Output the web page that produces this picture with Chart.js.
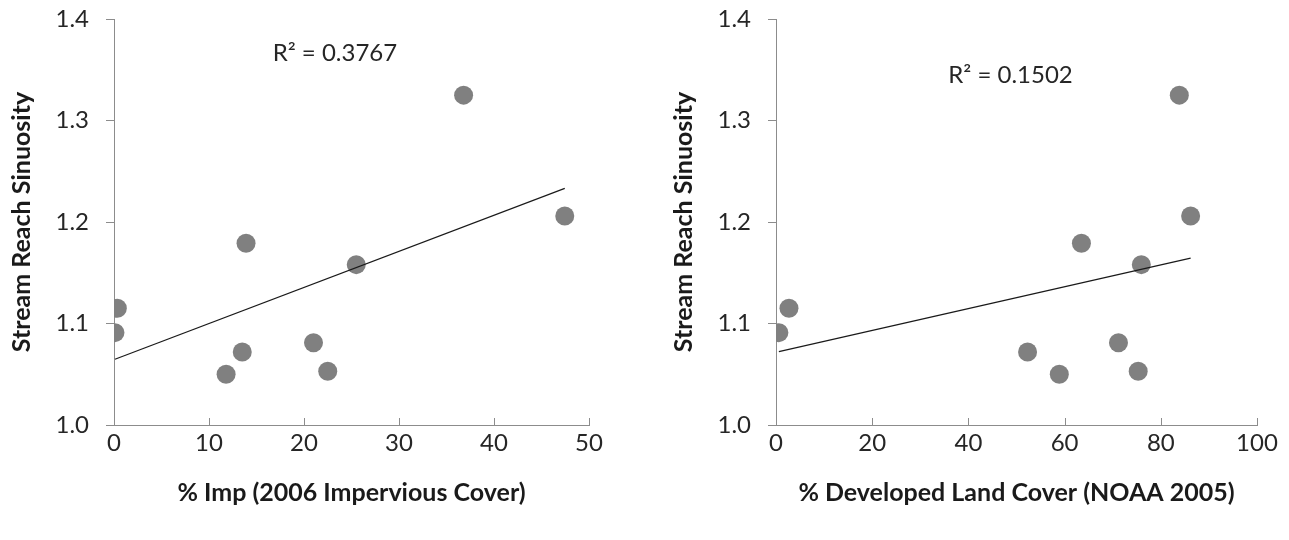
<!DOCTYPE html>
<html>
<head>
<meta charset="utf-8">
<script src="https://cdn.jsdelivr.net/npm/chart.js@4"></script>
<style>
  html, body { margin: 0; padding: 0; background: #fff; }
  #wrap { position: relative; width: 1289px; height: 540px; }
  canvas { position: absolute; top: 0; }
  #c1 { left: 0; }
  #c2 { left: 640px; }
</style>
</head>
<body>
<div id="wrap">
  <canvas id="c1" width="640" height="540"></canvas>
  <canvas id="c2" width="649" height="540"></canvas>
</div>
<script>
// values
var sinuosity = [1.115, 1.091, 1.050, 1.072, 1.179, 1.081, 1.053, 1.158, 1.325, 1.206];
var pctImp    = [0.35, 0.1, 11.8, 13.5, 13.9, 21.0, 22.5, 25.5, 36.8, 47.45];
var pctDev    = [2.7, 0.6, 58.9, 52.3, 63.5, 71.2, 75.3, 75.95, 83.85, 86.2];
var r2Text    = ['R\u00B2 = 0.3767', 'R\u00B2 = 0.1502'];
var xTitles   = ['% Imp (2006 Impervious Cover)', '% Developed Land Cover (NOAA 2005)'];
var yTitle    = 'Stream Reach Sinuosity';
var xMax      = [50, 100];
var xStep     = [10, 20];

var axisColor = '#8c8c8c';
var font = 'Lato';

function pairs(xs, ys) {
  return xs.map(function (x, i) { return {x: x, y: ys[i]}; });
}

// least squares line between min and max x
function trend(xs, ys) {
  var n = xs.length, sx = 0, sy = 0, sxx = 0, sxy = 0;
  for (var i = 0; i < n; i++) {
    sx += xs[i]; sy += ys[i]; sxx += xs[i] * xs[i]; sxy += xs[i] * ys[i];
  }
  var b = (n * sxy - sx * sy) / (n * sxx - sx * sx);
  var a = (sy - b * sx) / n;
  var lo = Math.min.apply(null, xs), hi = Math.max.apply(null, xs);
  return [{x: lo, y: a + b * lo}, {x: hi, y: a + b * hi}];
}

// x ticks point up into the plot
var innerTicks = {
  id: 'innerTicks',
  afterDatasetsDraw: function (chart) {
    var s = chart.scales.x, ctx = chart.ctx, b = chart.chartArea.bottom;
    ctx.save();
    ctx.strokeStyle = axisColor;
    ctx.lineWidth = 1;
    s.ticks.forEach(function (t) {
      var px = Math.round(s.getPixelForValue(t.value)) + 0.5;
      ctx.beginPath();
      ctx.moveTo(px, b);
      ctx.lineTo(px, b - 7);
      ctx.stroke();
    });
    ctx.restore();
  }
};

var r2Label = {
  id: 'r2Label',
  afterDatasetsDraw: function (chart, args, opts) {
    var ctx = chart.ctx;
    ctx.save();
    ctx.font = '24px ' + font;
    ctx.fillStyle = '#262626';
    ctx.textBaseline = 'middle';
    ctx.fillText(opts.text, chart.scales.x.getPixelForValue(opts.x), chart.scales.y.getPixelForValue(opts.y));
    ctx.restore();
  }
};

function makeChart(id, xs, k, pad, r2pos) {
  return new Chart(document.getElementById(id), {
    type: 'scatter',
    data: {
      datasets: [
        {
          data: trend(xs, sinuosity),
          showLine: true,
          borderColor: '#1a1a1a',
          borderWidth: 1.2,
          pointRadius: 0,
          order: 0
        },
        {
          data: pairs(xs, sinuosity),
          backgroundColor: '#808080',
          borderWidth: 0,
          pointRadius: 9.5,
          order: 1
        }
      ]
    },
    options: {
      responsive: false,
      animation: false,
      layout: { padding: pad },
      plugins: {
        legend: { display: false },
        tooltip: { enabled: false },
        r2Label: r2pos
      },
      scales: {
        x: {
          type: 'linear',
          min: 0, max: xMax[k],
          afterFit: function (s) { s.height = 115; s.paddingLeft = 0; s.paddingRight = 0; },
          grid: { drawOnChartArea: false, drawTicks: false },
          border: { display: true, color: axisColor, width: 1 },
          ticks: { stepSize: xStep[k], padding: 4, color: '#262626', font: { family: font, size: 24 } },
          title: {
            display: true, text: xTitles[k], color: '#1a1a1a',
            font: { family: font, size: 25, weight: 'bold' },
            padding: { top: 0, bottom: 32 }
          }
        },
        y: {
          min: 1.0, max: 1.4,
          afterFit: function (s) { s.width = 114; s.paddingTop = 0; s.paddingBottom = 0; },
          grid: { drawOnChartArea: false, drawTicks: true, tickLength: 8, color: axisColor },
          border: { display: true, color: axisColor, width: 1 },
          ticks: {
            stepSize: 0.1, padding: 17, color: '#262626',
            font: { family: font, size: 24 },
            callback: function (v) { return v.toFixed(1); }
          },
          title: {
            display: true, text: yTitle, color: '#1a1a1a',
            font: { family: font, size: 25, weight: 'bold' },
            padding: { top: 7, bottom: 0 }
          }
        }
      }
    },
    plugins: [innerTicks, r2Label]
  });
}

makeChart('c1', pctImp, 0, { top: 19, left: 0, right: 51, bottom: 0 }, { text: r2Text[0], x: 16.7, y: 1.3665 });
makeChart('c2', pctDev, 1, { top: 19, left: 22, right: 32, bottom: 0 }, { text: r2Text[1], x: 35.8, y: 1.345 });
</script>
</body>
</html>
